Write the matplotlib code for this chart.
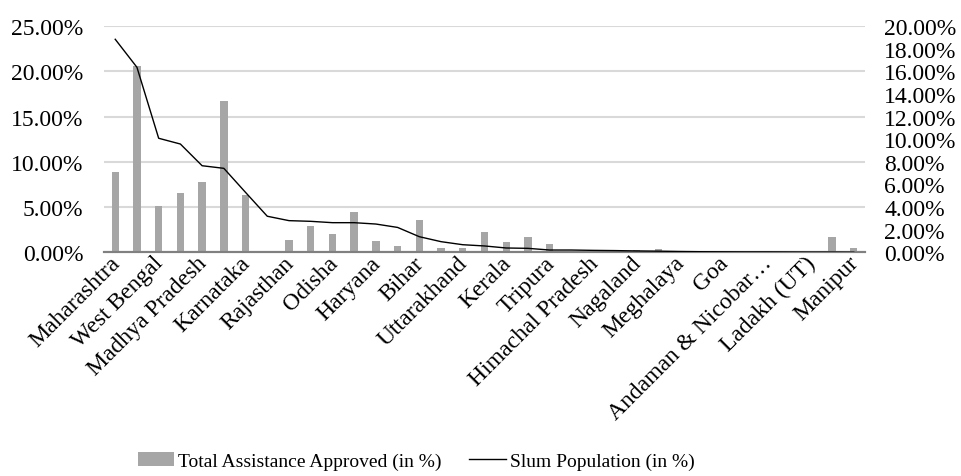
import numpy as np
import matplotlib
matplotlib.use('Agg')
import matplotlib.pyplot as plt
from matplotlib.ticker import FuncFormatter, MultipleLocator

plt.rcParams['font.family'] = ['Liberation Serif', 'DejaVu Serif']

# states / UTs, ordered by slum population share
states = ['Maharashtra', 'Andhra Pradesh', 'West Bengal', 'Uttar Pradesh',
          'Madhya Pradesh', 'Tamil Nadu', 'Karnataka', 'Delhi', 'Rajasthan',
          'Gujarat', 'Odisha', 'Chhattisgarh', 'Haryana', 'Punjab', 'Bihar',
          'Jharkhand', 'Uttarakhand', 'Jammu & Kashmir', 'Kerala', 'Assam',
          'Tripura', 'Puducherry', 'Himachal Pradesh', 'Chandigarh',
          'Nagaland', 'Mizoram', 'Meghalaya', 'Sikkim', 'Goa',
          'Arunachal Pradesh', 'Andaman & Nicobar\u2026', 'Dadra & Nagar Haveli',
          'Ladakh (UT)', 'Telangana', 'Manipur']

# share of total central assistance approved (%)
assistance = [8.90, 20.60, 5.11, 6.58, 7.76, 16.78, 6.36, 0.00, 1.36,
              2.90, 2.05, 4.41, 1.28, 0.70, 3.60, 0.44, 0.51, 2.27, 1.17,
              1.65, 0.95, 0.10, 0.10, 0.02, 0.29, 0.36, 0.10, 0.03, 0.02,
              0.05, 0.02, 0.02, 0.02, 1.66, 0.47]

# share of national slum population (%)
slum = [18.85, 16.37, 10.09, 9.58, 7.66, 7.43, 5.30, 3.19, 2.80, 2.74,
        2.62, 2.62, 2.50, 2.20, 1.38, 0.94, 0.67, 0.56, 0.38, 0.35, 0.20,
        0.20, 0.17, 0.15, 0.12, 0.10, 0.07, 0.05, 0.04, 0.03, 0.03, 0.02,
        0.01, 0.01, 0.00]

bar_color = '#a6a6a6'
x = np.arange(len(states))

fig = plt.figure(figsize=(9.61, 4.77), dpi=100)
ax = fig.add_axes([0.1086, 0.469, 0.7911, 0.4738])
ax2 = ax.twinx()

bars = ax.bar(x, np.array(assistance) / 100, width=0.34, color=bar_color,
              label='Total Assistance Approved (in %)', zorder=2)
line, = ax2.plot(x, np.array(slum) / 100, color='black', lw=1.0,
                 label='Slum Population (in %)', zorder=3)

ax.set_xlim(-0.5, len(states) - 0.5)
ax.set_ylim(0, 0.25)
ax2.set_ylim(0, 0.20)
ax.yaxis.set_major_locator(MultipleLocator(0.05))
ax2.yaxis.set_major_locator(MultipleLocator(0.02))
pct = FuncFormatter(lambda v, pos: '%.2f%%' % (v * 100))
ax.yaxis.set_major_formatter(pct)
ax2.yaxis.set_major_formatter(pct)

ax.grid(axis='y', color='#d9d9d9', lw=1.5, zorder=0)
ax.set_axisbelow(True)
for a in (ax, ax2):
    for s in ('top', 'left', 'right'):
        a.spines[s].set_visible(False)
    a.spines['bottom'].set_color('#808080')
    a.spines['bottom'].set_linewidth(1.5)
    a.tick_params(axis='both', length=0, labelsize=17)
ax.tick_params(axis='y', pad=15)
ax2.tick_params(axis='y', pad=14)

# every other category gets a label
ax.set_xticks(x[::2])
ax.set_xticklabels(states[::2], rotation=45, ha='right', va='center_baseline',
                   rotation_mode='anchor', fontsize=17)
ax.tick_params(axis='x', pad=4)

fig.legend([bars, line], [bars.get_label(), line.get_label()],
           loc='center', bbox_to_anchor=(0.433, 0.032), ncol=2,
           frameon=False, fontsize=14, handlelength=1.9,
           handletextpad=0.2, columnspacing=1.4)

fig.savefig('out.png', dpi=100)
